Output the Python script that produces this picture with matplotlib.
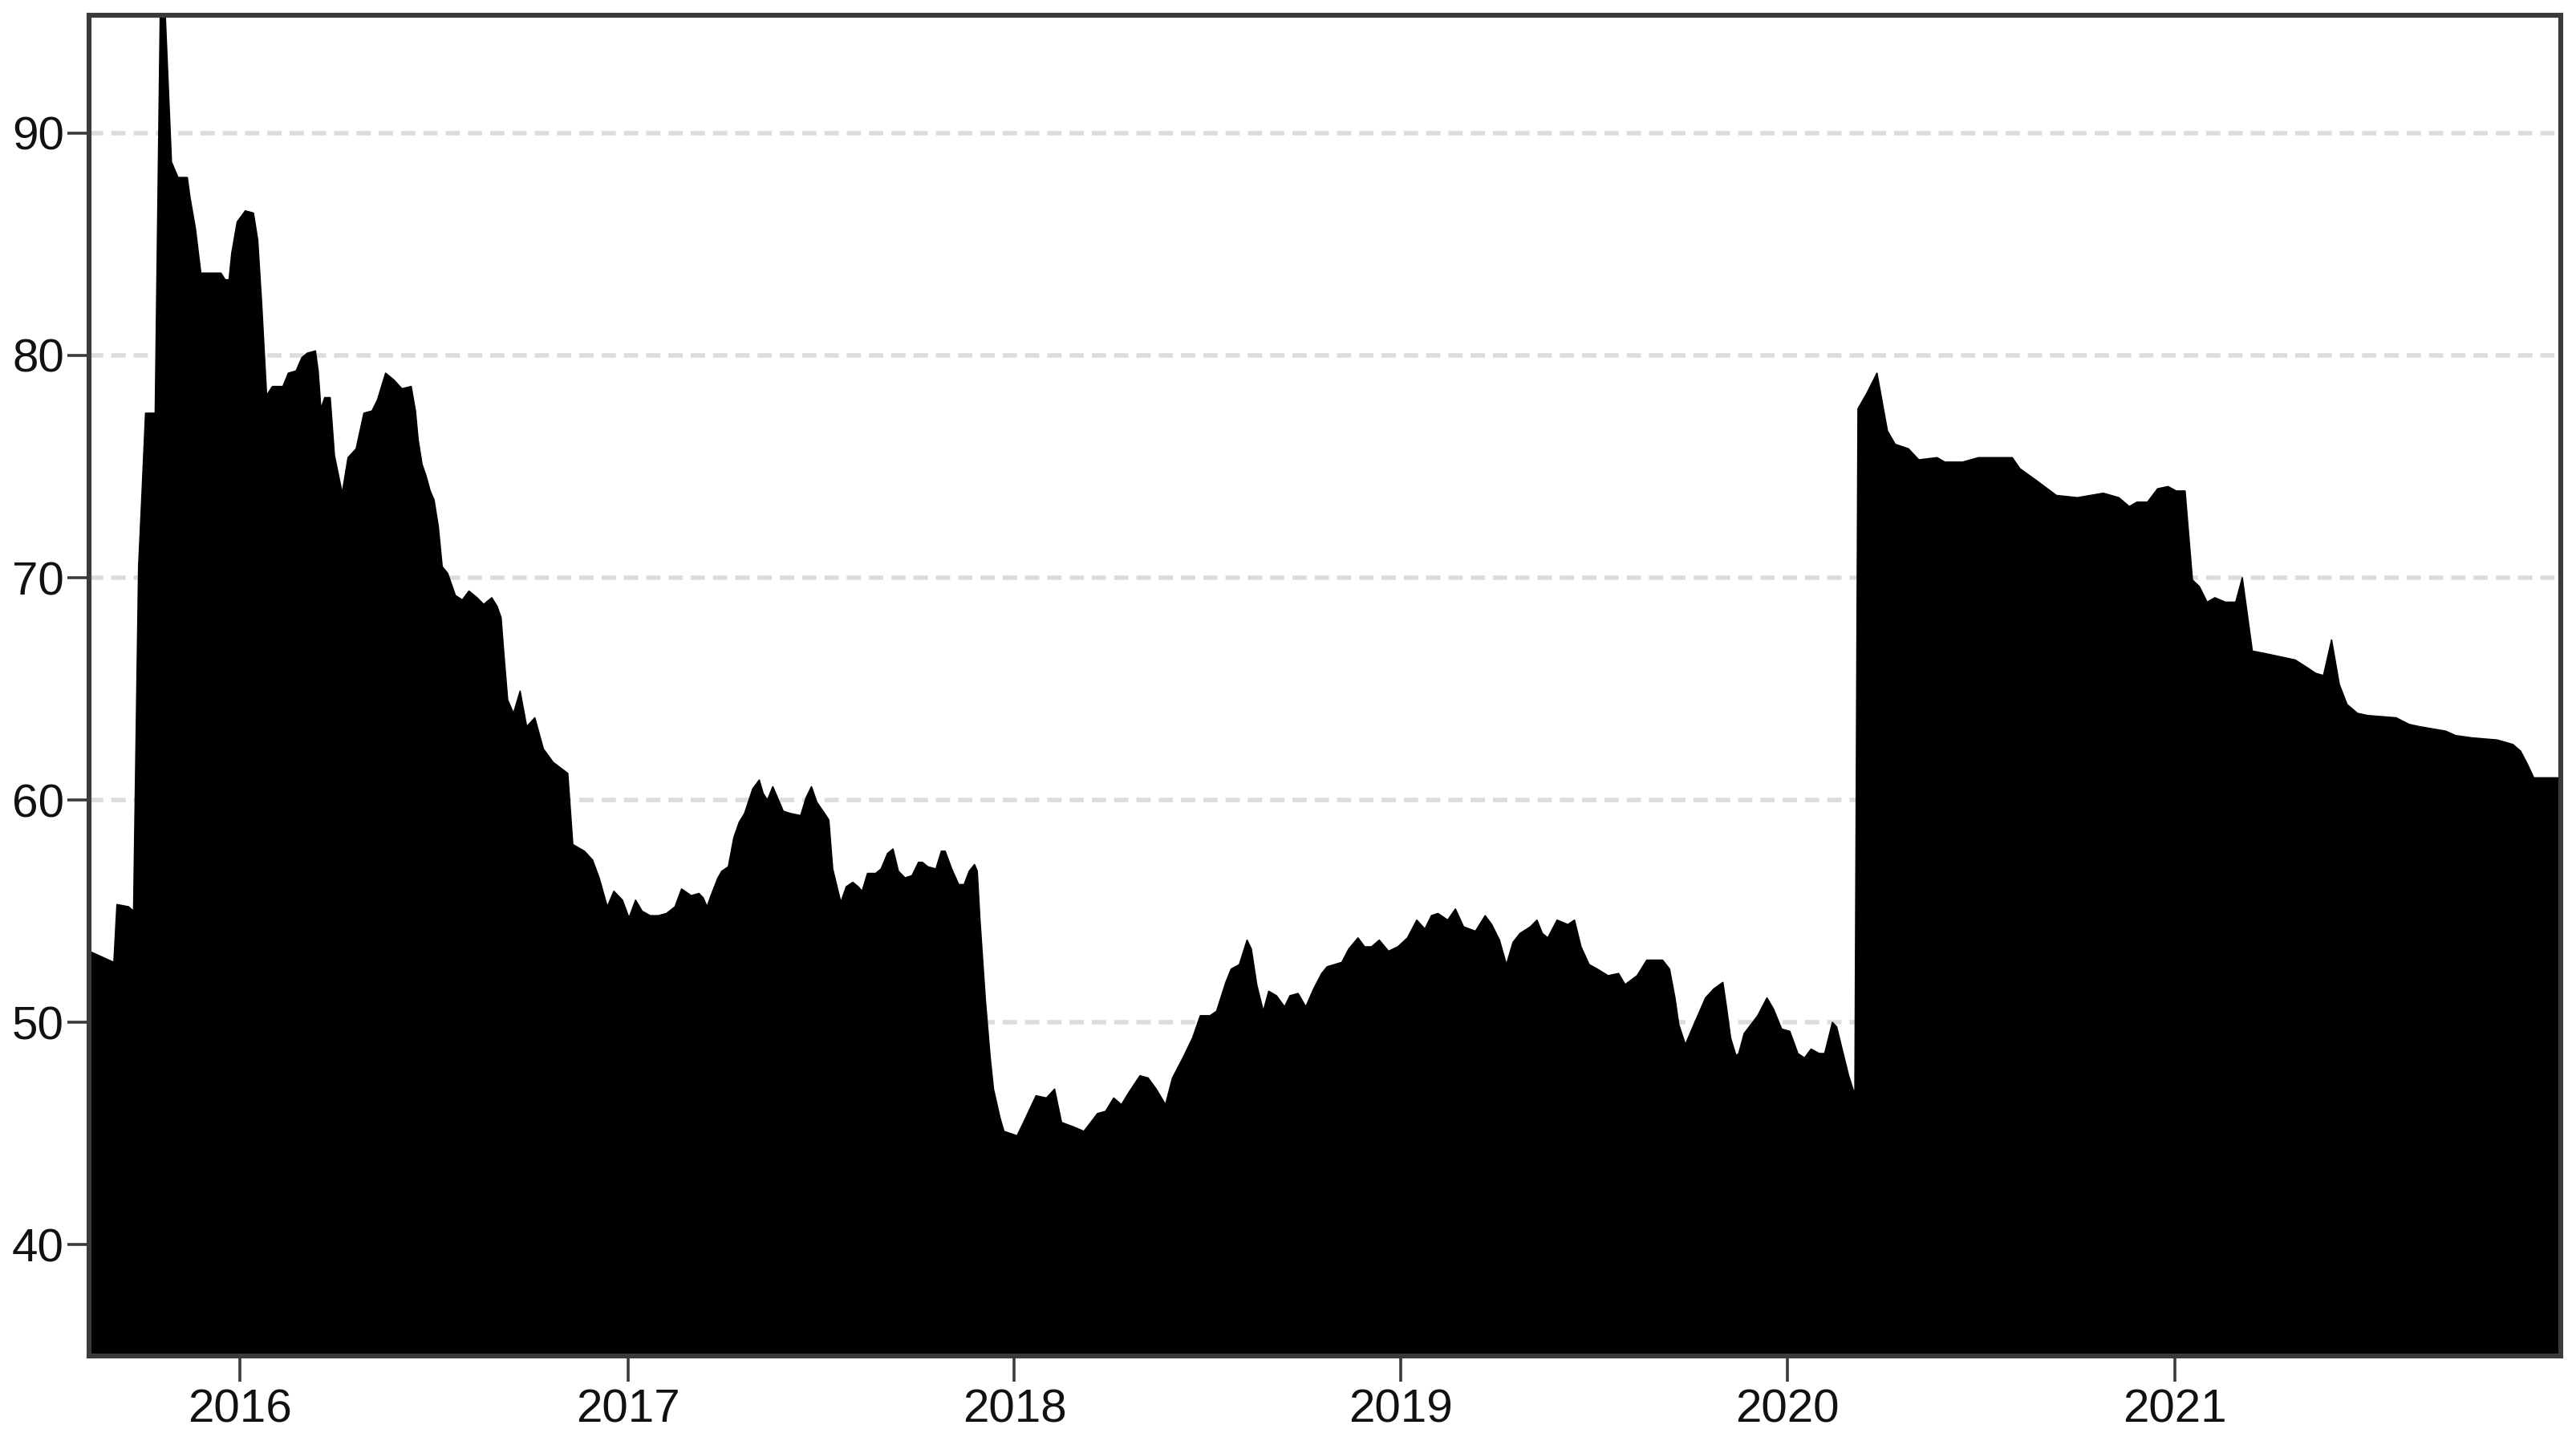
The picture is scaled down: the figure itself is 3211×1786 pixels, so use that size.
import datetime as dt

import matplotlib.pyplot as plt

plt.rcParams['font.family'] = ['Liberation Sans', 'DejaVu Sans']

# time as decimal years
t_years = [
    2015.609, 2015.635, 2015.660, 2015.673, 2015.681, 2015.711, 2015.724, 2015.737,
    2015.745, 2015.755, 2015.780, 2015.793, 2015.806, 2015.822, 2015.839, 2015.863,
    2015.870, 2015.884, 2015.898, 2015.950, 2015.961, 2015.971, 2015.978, 2015.992,
    2016.013, 2016.034, 2016.045, 2016.055, 2016.068, 2016.083, 2016.110, 2016.124,
    2016.144, 2016.159, 2016.173, 2016.194, 2016.201, 2016.208, 2016.218, 2016.232,
    2016.243, 2016.263, 2016.278, 2016.299, 2016.319, 2016.340, 2016.354, 2016.375,
    2016.396, 2016.417, 2016.441, 2016.452, 2016.459, 2016.469, 2016.479, 2016.490,
    2016.500, 2016.511, 2016.521, 2016.535, 2016.555, 2016.573, 2016.590, 2016.611,
    2016.628, 2016.649, 2016.663, 2016.673, 2016.680, 2016.690, 2016.705, 2016.722,
    2016.739, 2016.760, 2016.782, 2016.807, 2016.845, 2016.858, 2016.888, 2016.909,
    2016.926, 2016.947, 2016.964, 2016.986, 2017.003, 2017.020, 2017.037, 2017.058,
    2017.079, 2017.100, 2017.122, 2017.139, 2017.164, 2017.184, 2017.195, 2017.205,
    2017.215, 2017.233, 2017.243, 2017.260, 2017.274, 2017.288, 2017.302, 2017.323,
    2017.340, 2017.350, 2017.361, 2017.375, 2017.385, 2017.402, 2017.420, 2017.447,
    2017.461, 2017.475, 2017.489, 2017.509, 2017.520, 2017.530, 2017.551, 2017.565,
    2017.582, 2017.596, 2017.606, 2017.620, 2017.641, 2017.655, 2017.672, 2017.686,
    2017.700, 2017.717, 2017.735, 2017.752, 2017.762, 2017.776, 2017.797, 2017.811,
    2017.821, 2017.838, 2017.856, 2017.870, 2017.883, 2017.897, 2017.904, 2017.911,
    2017.925, 2017.937, 2017.946, 2017.963, 2017.973, 2018.007, 2018.021, 2018.056,
    2018.083, 2018.104, 2018.122, 2018.153, 2018.180, 2018.215, 2018.236, 2018.257,
    2018.277, 2018.298, 2018.325, 2018.346, 2018.367, 2018.391, 2018.409, 2018.436,
    2018.461, 2018.481, 2018.506, 2018.523, 2018.547, 2018.561, 2018.582, 2018.602,
    2018.613, 2018.627, 2018.644, 2018.658, 2018.678, 2018.699, 2018.713, 2018.734,
    2018.754, 2018.774, 2018.795, 2018.809, 2018.847, 2018.865, 2018.889, 2018.906,
    2018.924, 2018.944, 2018.968, 2018.992, 2019.017, 2019.041, 2019.062, 2019.079,
    2019.096, 2019.121, 2019.141, 2019.162, 2019.193, 2019.218, 2019.235, 2019.255,
    2019.273, 2019.290, 2019.308, 2019.335, 2019.352, 2019.366, 2019.380, 2019.404,
    2019.432, 2019.449, 2019.466, 2019.487, 2019.508, 2019.536, 2019.563, 2019.580,
    2019.611, 2019.636, 2019.677, 2019.695, 2019.709, 2019.719, 2019.736, 2019.753,
    2019.788, 2019.809, 2019.833, 2019.843, 2019.853, 2019.867, 2019.874, 2019.888,
    2019.923, 2019.947, 2019.964, 2019.985, 2020.006, 2020.027, 2020.044, 2020.061,
    2020.082, 2020.096, 2020.116, 2020.127, 2020.141, 2020.158, 2020.169, 2020.174,
    2020.182, 2020.205, 2020.231, 2020.258, 2020.278, 2020.312, 2020.339, 2020.386,
    2020.406, 2020.452, 2020.493, 2020.533, 2020.580, 2020.600, 2020.640, 2020.694,
    2020.748, 2020.815, 2020.855, 2020.882, 2020.902, 2020.929, 2020.955, 2020.982,
    2021.003, 2021.026, 2021.045, 2021.063, 2021.083, 2021.103, 2021.130, 2021.157,
    2021.174, 2021.200, 2021.230, 2021.311, 2021.338, 2021.364, 2021.384, 2021.405,
    2021.425, 2021.445, 2021.472, 2021.499, 2021.572, 2021.606, 2021.633, 2021.700,
    2021.726, 2021.767, 2021.834, 2021.874, 2021.894, 2021.912, 2021.928, 2021.998,
]
values = [
    53.2, 53.0, 52.8, 52.7, 55.3, 55.2, 55.0, 70.5,
    73.5, 77.4, 77.4, 95.3, 95.3, 88.7, 88.0, 88.0,
    87.1, 85.7, 83.7, 83.7, 83.4, 83.4, 84.6, 86.0,
    86.5, 86.4, 85.2, 82.4, 78.2, 78.6, 78.6, 79.2,
    79.3, 79.9, 80.1, 80.2, 79.3, 77.6, 78.1, 78.1,
    75.5, 73.8, 75.4, 75.8, 77.4, 77.5, 78.0, 79.2,
    78.9, 78.5, 78.6, 77.5, 76.2, 75.1, 74.6, 73.9,
    73.5, 72.3, 70.5, 70.2, 69.2, 69.0, 69.4, 69.1,
    68.8, 69.1, 68.7, 68.2, 66.6, 64.5, 63.9, 64.9,
    63.3, 63.7, 62.3, 61.7, 61.2, 58.0, 57.7, 57.3,
    56.5, 55.2, 55.9, 55.5, 54.7, 55.5, 55.0, 54.8,
    54.8, 54.9, 55.2, 56.0, 55.7, 55.8, 55.6, 55.2,
    55.7, 56.5, 56.8, 57.0, 58.3, 59.0, 59.4, 60.5,
    60.9, 60.3, 60.0, 60.6, 60.2, 59.5, 59.4, 59.3,
    60.1, 60.6, 59.9, 59.4, 59.1, 56.9, 55.4, 56.1,
    56.3, 56.1, 55.9, 56.7, 56.7, 56.9, 57.6, 57.8,
    56.8, 56.5, 56.6, 57.2, 57.2, 57.0, 56.9, 57.7,
    57.7, 56.9, 56.2, 56.2, 56.8, 57.1, 56.8, 54.6,
    51.0, 48.5, 47.0, 45.7, 45.1, 44.9, 45.4, 46.7,
    46.6, 47.0, 45.5, 45.3, 45.1, 45.9, 46.0, 46.6,
    46.3, 46.9, 47.6, 47.5, 47.0, 46.3, 47.5, 48.4,
    49.3, 50.3, 50.3, 50.5, 51.8, 52.4, 52.6, 53.7,
    53.3, 51.7, 50.5, 51.4, 51.2, 50.7, 51.2, 51.3,
    50.7, 51.5, 52.2, 52.5, 52.7, 53.3, 53.8, 53.4,
    53.4, 53.7, 53.2, 53.4, 53.8, 54.6, 54.2, 54.8,
    54.9, 54.6, 55.1, 54.3, 54.1, 54.8, 54.4, 53.7,
    52.6, 53.6, 54.0, 54.3, 54.6, 54.0, 53.8, 54.6,
    54.4, 54.6, 53.4, 52.6, 52.4, 52.1, 52.2, 51.7,
    52.1, 52.8, 52.8, 52.4, 51.1, 49.9, 49.0, 49.7,
    51.1, 51.5, 51.8, 50.6, 49.3, 48.5, 48.6, 49.5,
    50.3, 51.1, 50.6, 49.7, 49.6, 48.6, 48.4, 48.8,
    48.6, 48.6, 50.0, 49.8, 48.8, 47.6, 47.0, 46.8,
    77.6, 78.3, 79.2, 76.6, 76.0, 75.8, 75.3, 75.4,
    75.2, 75.2, 75.4, 75.4, 75.4, 74.9, 74.4, 73.7,
    73.6, 73.8, 73.6, 73.2, 73.4, 73.4, 74.0, 74.1,
    73.9, 73.9, 69.9, 69.6, 68.9, 69.1, 68.9, 68.9,
    70.0, 66.7, 66.6, 66.3, 66.0, 65.7, 65.6, 67.2,
    65.2, 64.3, 63.9, 63.8, 63.7, 63.4, 63.3, 63.1,
    62.9, 62.8, 62.7, 62.5, 62.2, 61.6, 61.0, 61.0,
]
y_ticks = [40, 50, 60, 70, 80, 90]
x_tick_years = [2016, 2017, 2018, 2019, 2020, 2021]


def to_date(t):
    y = int(t)
    start = dt.datetime(y, 1, 1)
    ndays = (dt.datetime(y + 1, 1, 1) - start).days
    return start + dt.timedelta(days=(t - y) * ndays)


dates = [to_date(t) for t in t_years]

fig = plt.figure(figsize=(16.055, 8.93), dpi=200)
ax = fig.add_axes([0.0346, 0.0538, 0.9595, 0.9356])

ax.fill_between(dates, values, 0, color='black', linewidth=0.6, edgecolor='black', zorder=2)

ax.set_xlim(dates[0], dates[-1])
ax.set_ylim(35, 95.3)

ax.set_yticks(y_ticks)
ax.set_xticks([dt.datetime(y, 1, 1) for y in x_tick_years])
ax.set_xticklabels([str(y) for y in x_tick_years])

ax.grid(axis='y', color='#dcdcdc', linewidth=2.0, linestyle=(0, (3.2, 1.8)), zorder=0)
ax.set_axisbelow(True)

for s in ax.spines.values():
    s.set_linewidth(2.2)
    s.set_color('#3a3a3a')
    s.set_zorder(3)

ax.tick_params(axis='y', length=9.7, width=1.3, color='#3a3a3a', pad=1.5,
               labelsize=21, labelcolor='#111111')
ax.tick_params(axis='x', length=11.5, width=1.3, color='#3a3a3a', pad=3,
               labelsize=21, labelcolor='#111111')

fig.savefig('out.png', dpi=200)
